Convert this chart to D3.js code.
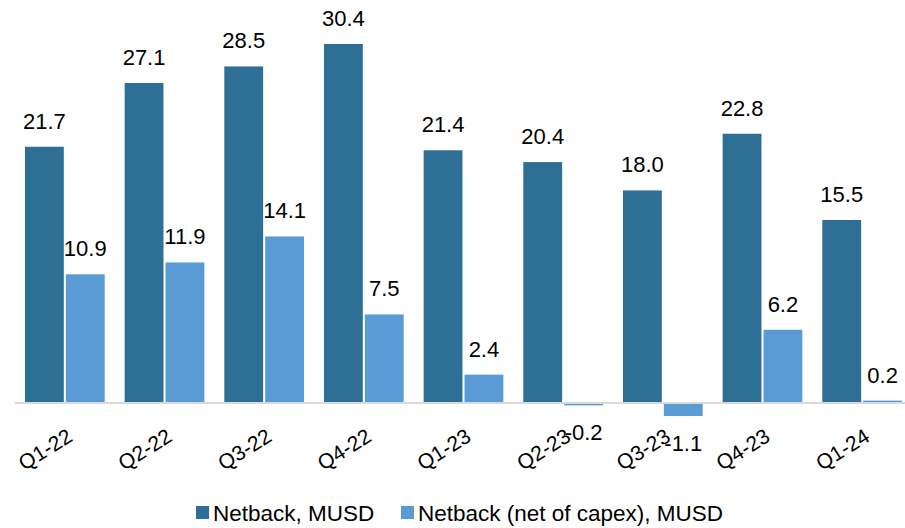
<!DOCTYPE html>
<meta charset="utf-8">
<head>
    <title></title>
    <script src="https://cdn.jsdelivr.net/npm/d3@7"></script>
</head>
<style>
    body{ margin:0; background:#fff; }
    text{ font-family: "Liberation Sans", Arial, sans-serif; fill:#000; }
</style>
<svg width="905" height="528"></svg>
<script>
    var quarters = ['Q1-22','Q2-22','Q3-22','Q4-22','Q1-23','Q2-23','Q3-23','Q4-23','Q1-24'];
    var netback = [21.7, 27.1, 28.5, 30.4, 21.4, 20.4, 18.0, 22.8, 15.5];
    var netbackCapex = [10.9, 11.9, 14.1, 7.5, 2.4, -0.2, -1.1, 6.2, 0.2];
    var seriesNames = ['Netback, MUSD', 'Netback (net of capex), MUSD'];
    var colors = ['#2E6F96', '#5B9BD5'];

    var svg = d3.select('svg');

    var x = d3.scaleBand().domain(quarters).range([15, 912]).paddingInner(0.2).paddingOuter(0.1);
    var xs = d3.scaleBand().domain([0,1]).range([0, x.bandwidth()]).paddingInner(0.05);
    var y = d3.scaleLinear().domain([0, d3.max(netback)]).range([403, 44]);

    var rows = quarters.map(function(q, i){
        return {q: q, vals: [netback[i], netbackCapex[i]]};
    });

    var groups = svg.selectAll('g.grp').data(rows).enter().append('g')
        .attr('class','grp')
        .attr('transform', function(d){ return 'translate(' + x(d.q) + ',0)'; });

    groups.selectAll('rect').data(function(d){ return d.vals; }).enter().append('rect')
        .attr('x', function(d,i){ return xs(i); })
        .attr('width', xs.bandwidth())
        .attr('y', function(d){ return d >= 0 ? y(d) : y(0); })
        .attr('height', function(d){ return Math.abs(y(d) - y(0)); })
        .style('fill', function(d,i){ return colors[i]; });

    groups.selectAll('text.val').data(function(d){ return d.vals; }).enter().append('text')
        .attr('class','val')
        .attr('x', function(d,i){ return xs(i) + xs.bandwidth()/2; })
        .attr('y', function(d){ return d >= 0 ? y(d) - 18 : y(d) + 35; })
        .attr('text-anchor','middle')
        .style('font-size','22px')
        .text(function(d){ return d.toFixed(1); });

    // axis line
    svg.append('line')
        .attr('x1', 15).attr('x2', 905)
        .attr('y1', y(0)).attr('y2', y(0))
        .style('stroke','#D9D9D9').style('stroke-width', 2);

    svg.selectAll('text.tick').data(quarters).enter().append('text')
        .attr('class','tick')
        .attr('transform', function(d){ return 'translate(' + (x(d) + x.bandwidth()/2 + 9) + ',440) rotate(-32)'; })
        .attr('text-anchor','end')
        .style('font-size','21px')
        .text(function(d){ return d; });

    // legend
    var legX = [196, 401];
    var leg = svg.selectAll('g.leg').data(seriesNames).enter().append('g')
        .attr('class','leg')
        .attr('transform', function(d,i){ return 'translate(' + legX[i] + ',506)'; });
    leg.append('rect').attr('width', 13).attr('height', 13)
        .style('fill', function(d,i){ return colors[i]; });
    leg.append('text').attr('x', 17).attr('y', 15)
        .style('font-size','22.5px')
        .text(function(d){ return d; });
</script>
